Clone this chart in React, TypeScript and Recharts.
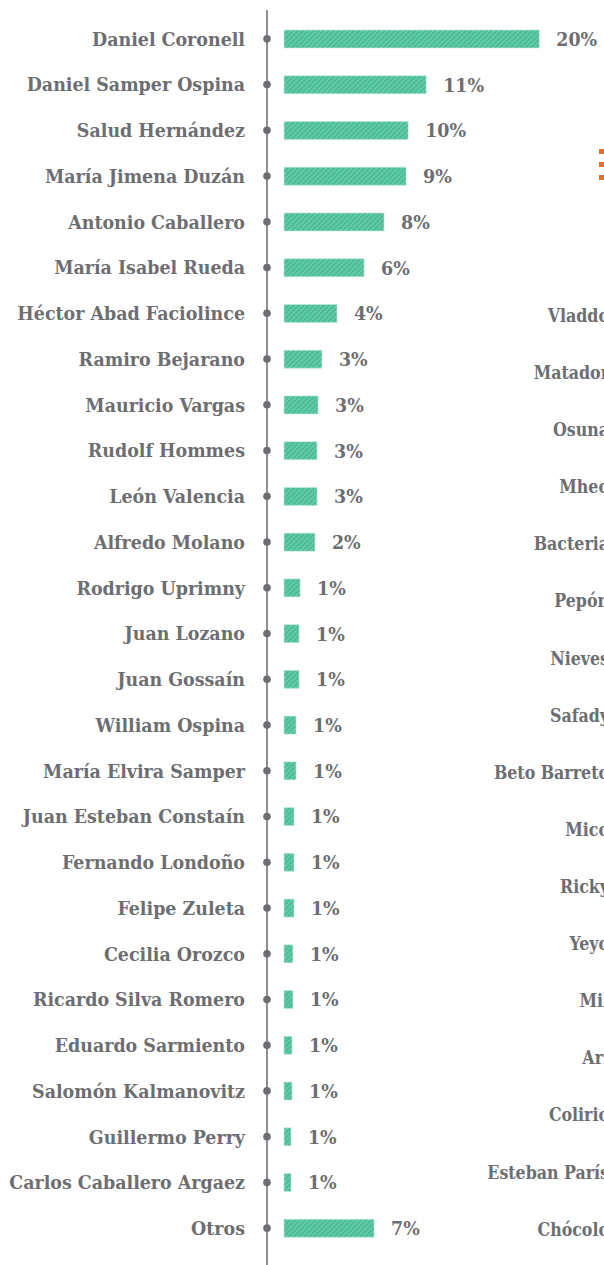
import { BarChart, Bar, XAxis, YAxis, LabelList } from "recharts";

const columnists = [
  "Daniel Coronell",
  "Daniel Samper Ospina",
  "Salud Hernández",
  "María Jimena Duzán",
  "Antonio Caballero",
  "María Isabel Rueda",
  "Héctor Abad Faciolince",
  "Ramiro Bejarano",
  "Mauricio Vargas",
  "Rudolf Hommes",
  "León Valencia",
  "Alfredo Molano",
  "Rodrigo Uprimny",
  "Juan Lozano",
  "Juan Gossaín",
  "William Ospina",
  "María Elvira Samper",
  "Juan Esteban Constaín",
  "Fernando Londoño",
  "Felipe Zuleta",
  "Cecilia Orozco",
  "Ricardo Silva Romero",
  "Eduardo Sarmiento",
  "Salomón Kalmanovitz",
  "Guillermo Perry",
  "Carlos Caballero Argaez",
  "Otros",
];

const shares = [
  19.7, 10.97, 9.58, 9.42, 7.72, 6.18, 4.09, 2.93, 2.63, 2.55, 2.55, 2.39, 1.24,
  1.16, 1.16, 0.93, 0.93, 0.77, 0.77, 0.77, 0.69, 0.69, 0.62, 0.62, 0.54, 0.54,
  6.95,
];

const shareLabels = [
  "20%", "11%", "10%", "9%", "8%", "6%", "4%", "3%", "3%", "3%", "3%", "2%",
  "1%", "1%", "1%", "1%", "1%", "1%", "1%", "1%", "1%", "1%", "1%", "1%", "1%",
  "1%", "7%",
];

// second chart, cut off at the right edge of the page
const cartoonists = [
  "Vladdo", "Matador", "Osuna", "Mheo", "Bacteria", "Pepón", "Nieves", "Safady",
  "Beto Barreto", "Mico", "Ricky", "Yeyo", "Mil", "Ari", "Colirio",
  "Esteban París", "Chócolo",
];

const data = columnists.map((name, i) => ({
  name,
  value: shares[i],
  label: shareLabels[i],
}));

const data2 = cartoonists.map((name) => ({ name }));

const TEXT = "#6d6e71";
const FONT = "'DejaVu Serif Condensed', 'DejaVu Serif', serif";

const NameTick = ({ x, y, payload }: any) => (
  <g>
    <circle cx={x} cy={y} r={3.8} fill={TEXT} />
    <text
      x={x - 22}
      y={y}
      dy="0.355em"
      textAnchor="end"
      fill={TEXT}
      fontFamily={FONT}
      fontStretch="condensed"
      fontWeight="bold"
      fontSize={19.4}
    >
      {payload.value}
    </text>
  </g>
);

const SideTick = ({ x, y, payload }: any) => (
  <text
    x={x}
    y={y}
    dy="0.355em"
    textAnchor="end"
    fill={TEXT}
    fontFamily={FONT}
    fontStretch="condensed"
    fontWeight="bold"
    fontSize={17.6}
  >
    {payload.value}
  </text>
);

export default function App() {
  return (
    <div
      style={{
        position: "fixed",
        left: 0,
        top: 0,
        width: 604,
        height: 1265,
        overflow: "hidden",
        background: "#fff",
      }}
    >
      <div style={{ position: "absolute", left: 420, top: 0 }}>
        <BarChart
          width={300}
          height={1265}
          data={data2}
          layout="vertical"
          margin={{ top: 287, right: 0, bottom: 7, left: 0 }}
        >
          <XAxis type="number" hide domain={[0, 10]} />
          <YAxis
            type="category"
            dataKey="name"
            width={189}
            axisLine={false}
            tickLine={false}
            tickSize={0}
            tickMargin={0}
            tick={<SideTick />}
            interval={0}
          />
          <Bar dataKey="v" isAnimationActive={false} />
        </BarChart>
      </div>

      <div style={{ position: "absolute", left: 599, top: 149 }}>
        {[0, 1, 2].map((i) => (
          <div
            key={i}
            style={{ width: 6, height: 5, background: "#e26f2a", marginBottom: 8 }}
          />
        ))}
      </div>

      <div style={{ position: "absolute", left: 0, top: 0 }}>
        <BarChart
          width={604}
          height={1265}
          data={data}
          layout="vertical"
          margin={{ top: 10, right: 9, bottom: 0, left: 0 }}
          barSize={18}
        >
          <defs>
            <pattern
              id="hatch"
              width={3.6}
              height={3.6}
              patternUnits="userSpaceOnUse"
              patternTransform="rotate(45)"
            >
              <rect width={3.6} height={3.6} fill="#4cbf99" />
              <line x1={0} y1={0} x2={0} y2={3.6} stroke="#ffffff" strokeOpacity={0.5} strokeWidth={0.9} />
            </pattern>
          </defs>
          <XAxis type="number" hide domain={[0, 24]} padding={{ left: 17, right: 0 }} />
          <YAxis
            type="category"
            dataKey="name"
            width={267}
            axisLine={{ stroke: "#8e8f93", strokeWidth: 2 }}
            tickLine={false}
            tickSize={0}
            tickMargin={0}
            tick={<NameTick />}
            interval={0}
            padding={{ top: 6, bottom: 14 }}
          />
          <Bar
            dataKey="value"
            fill="url(#hatch)"
            stroke="#bfe9da"
            strokeWidth={0.6}
            isAnimationActive={false}
          >
            <LabelList
              dataKey="label"
              position="right"
              offset={17}
              fill={TEXT}
              fontFamily={FONT}
              fontStretch="condensed"
              fontWeight="bold"
              fontSize={19.4}
            />
          </Bar>
        </BarChart>
      </div>
    </div>
  );
}
